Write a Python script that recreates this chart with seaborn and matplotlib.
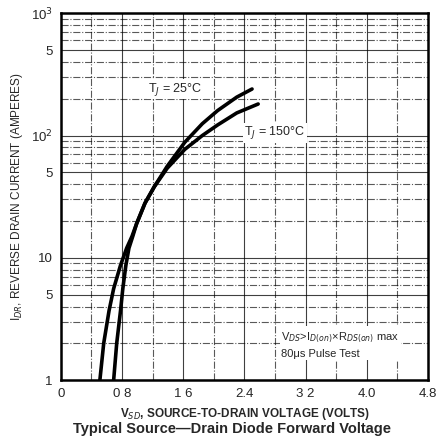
import pandas as pd
import seaborn as sns
import matplotlib.pyplot as plt
from matplotlib.ticker import FixedLocator, NullFormatter

# =====================================================
# DATA
# =====================================================
v_25c = [0.69, 0.73, 0.78, 0.81, 0.85, 0.89, 0.94, 0.99, 1.10, 1.22, 1.39, 1.62, 1.85, 2.05, 2.30, 2.50]
i_25c = [1, 2, 3.7, 5.6, 8.7, 12, 15, 19, 28, 38, 56, 88, 125, 160, 206, 240]

v_150c = [0.51, 0.56, 0.63, 0.69, 0.78, 0.86, 0.93, 0.99, 1.10, 1.22, 1.39, 1.62, 1.85, 2.05, 2.30, 2.58]
i_150c = [1, 2, 3.7, 5.6, 8.7, 12, 15, 19, 28, 38, 54, 77, 100, 122, 153, 181]

x_ticks = [0, 0.8, 1.6, 2.4, 3.2, 4.0, 4.8]
x_tick_labels = ["0", "0 8", "1 6", "2.4", "3 2", "4.0", "4.8"]
x_grid = [0.4, 1.2, 2.0, 2.8, 3.6, 4.4]
y_ticks = [1, 5, 10, 50, 100, 500, 1000]
y_tick_labels = ["1", "5", "10", "5", "10$^2$", "5", "10$^3$"]

df = pd.concat([
    pd.DataFrame({"v": v_25c, "i": i_25c, "temp": "25"}),
    pd.DataFrame({"v": v_150c, "i": i_150c, "temp": "150"}),
])

# =====================================================
# PLOT
# =====================================================
sns.set_style("white")
plt.rcParams["font.family"] = ["Liberation Sans", "DejaVu Sans"]

fig = plt.figure(figsize=(4.38, 4.40), dpi=100)
ax = fig.add_axes([0.139, 0.136, 0.838, 0.834])

sns.lineplot(data=df, x="v", y="i", hue="temp", palette=["black", "black"],
             linewidth=2.6, legend=False, sort=False, ax=ax)

ax.set_yscale("log")
ax.set_xlim(0, 4.8)
ax.set_ylim(1, 1000)

ax.set_xticks(x_ticks)
ax.set_xticklabels(x_tick_labels, fontsize=9.5)
ax.xaxis.set_minor_locator(FixedLocator(x_grid))
ax.set_yticks(y_ticks)
ax.set_yticklabels(y_tick_labels, fontsize=9.5)
ax.yaxis.set_minor_locator(FixedLocator(
    [m * 10 ** k for k in range(3) for m in range(2, 10)]))
ax.yaxis.set_minor_formatter(NullFormatter())
ax.tick_params(which="both", length=0, pad=6)

ax.grid(which="major", color="black", linewidth=0.8, linestyle="-", alpha=0.75)
ax.grid(which="minor", color="black", linewidth=0.8, linestyle="-.", alpha=0.65)

for s in ax.spines.values():
    s.set_linewidth(1.8)
    s.set_color("black")

ax.set_xlabel("V$_{SD}$, SOURCE-TO-DRAIN VOLTAGE (VOLTS)", fontsize=8.5,
              fontweight="bold", labelpad=4)
ax.set_ylabel("I$_{DR}$, REVERSE DRAIN CURRENT (AMPERES)", fontsize=8.5,
              labelpad=4)

ax.text(1.14, 240, "T$_J$ = 25°C", fontsize=9, va="center",
        bbox=dict(facecolor="white", edgecolor="none", pad=1))
ax.text(2.40, 105, "T$_J$ = 150°C", fontsize=9, va="center",
        bbox=dict(facecolor="white", edgecolor="none", pad=1))
ax.text(2.88, 1.95, "V$_{DS}$>I$_{D(on)}$×R$_{DS(on)}$ max\n80μs Pulse Test",
        fontsize=8, va="center", linespacing=1.5,
        bbox=dict(facecolor="white", edgecolor="none", pad=1))

fig.text(0.53, 0.01, "Typical Source—Drain Diode Forward Voltage",
         ha="center", va="bottom", fontsize=10.5, fontweight="bold")

plt.savefig("out.png", dpi=100)
plt.close()
